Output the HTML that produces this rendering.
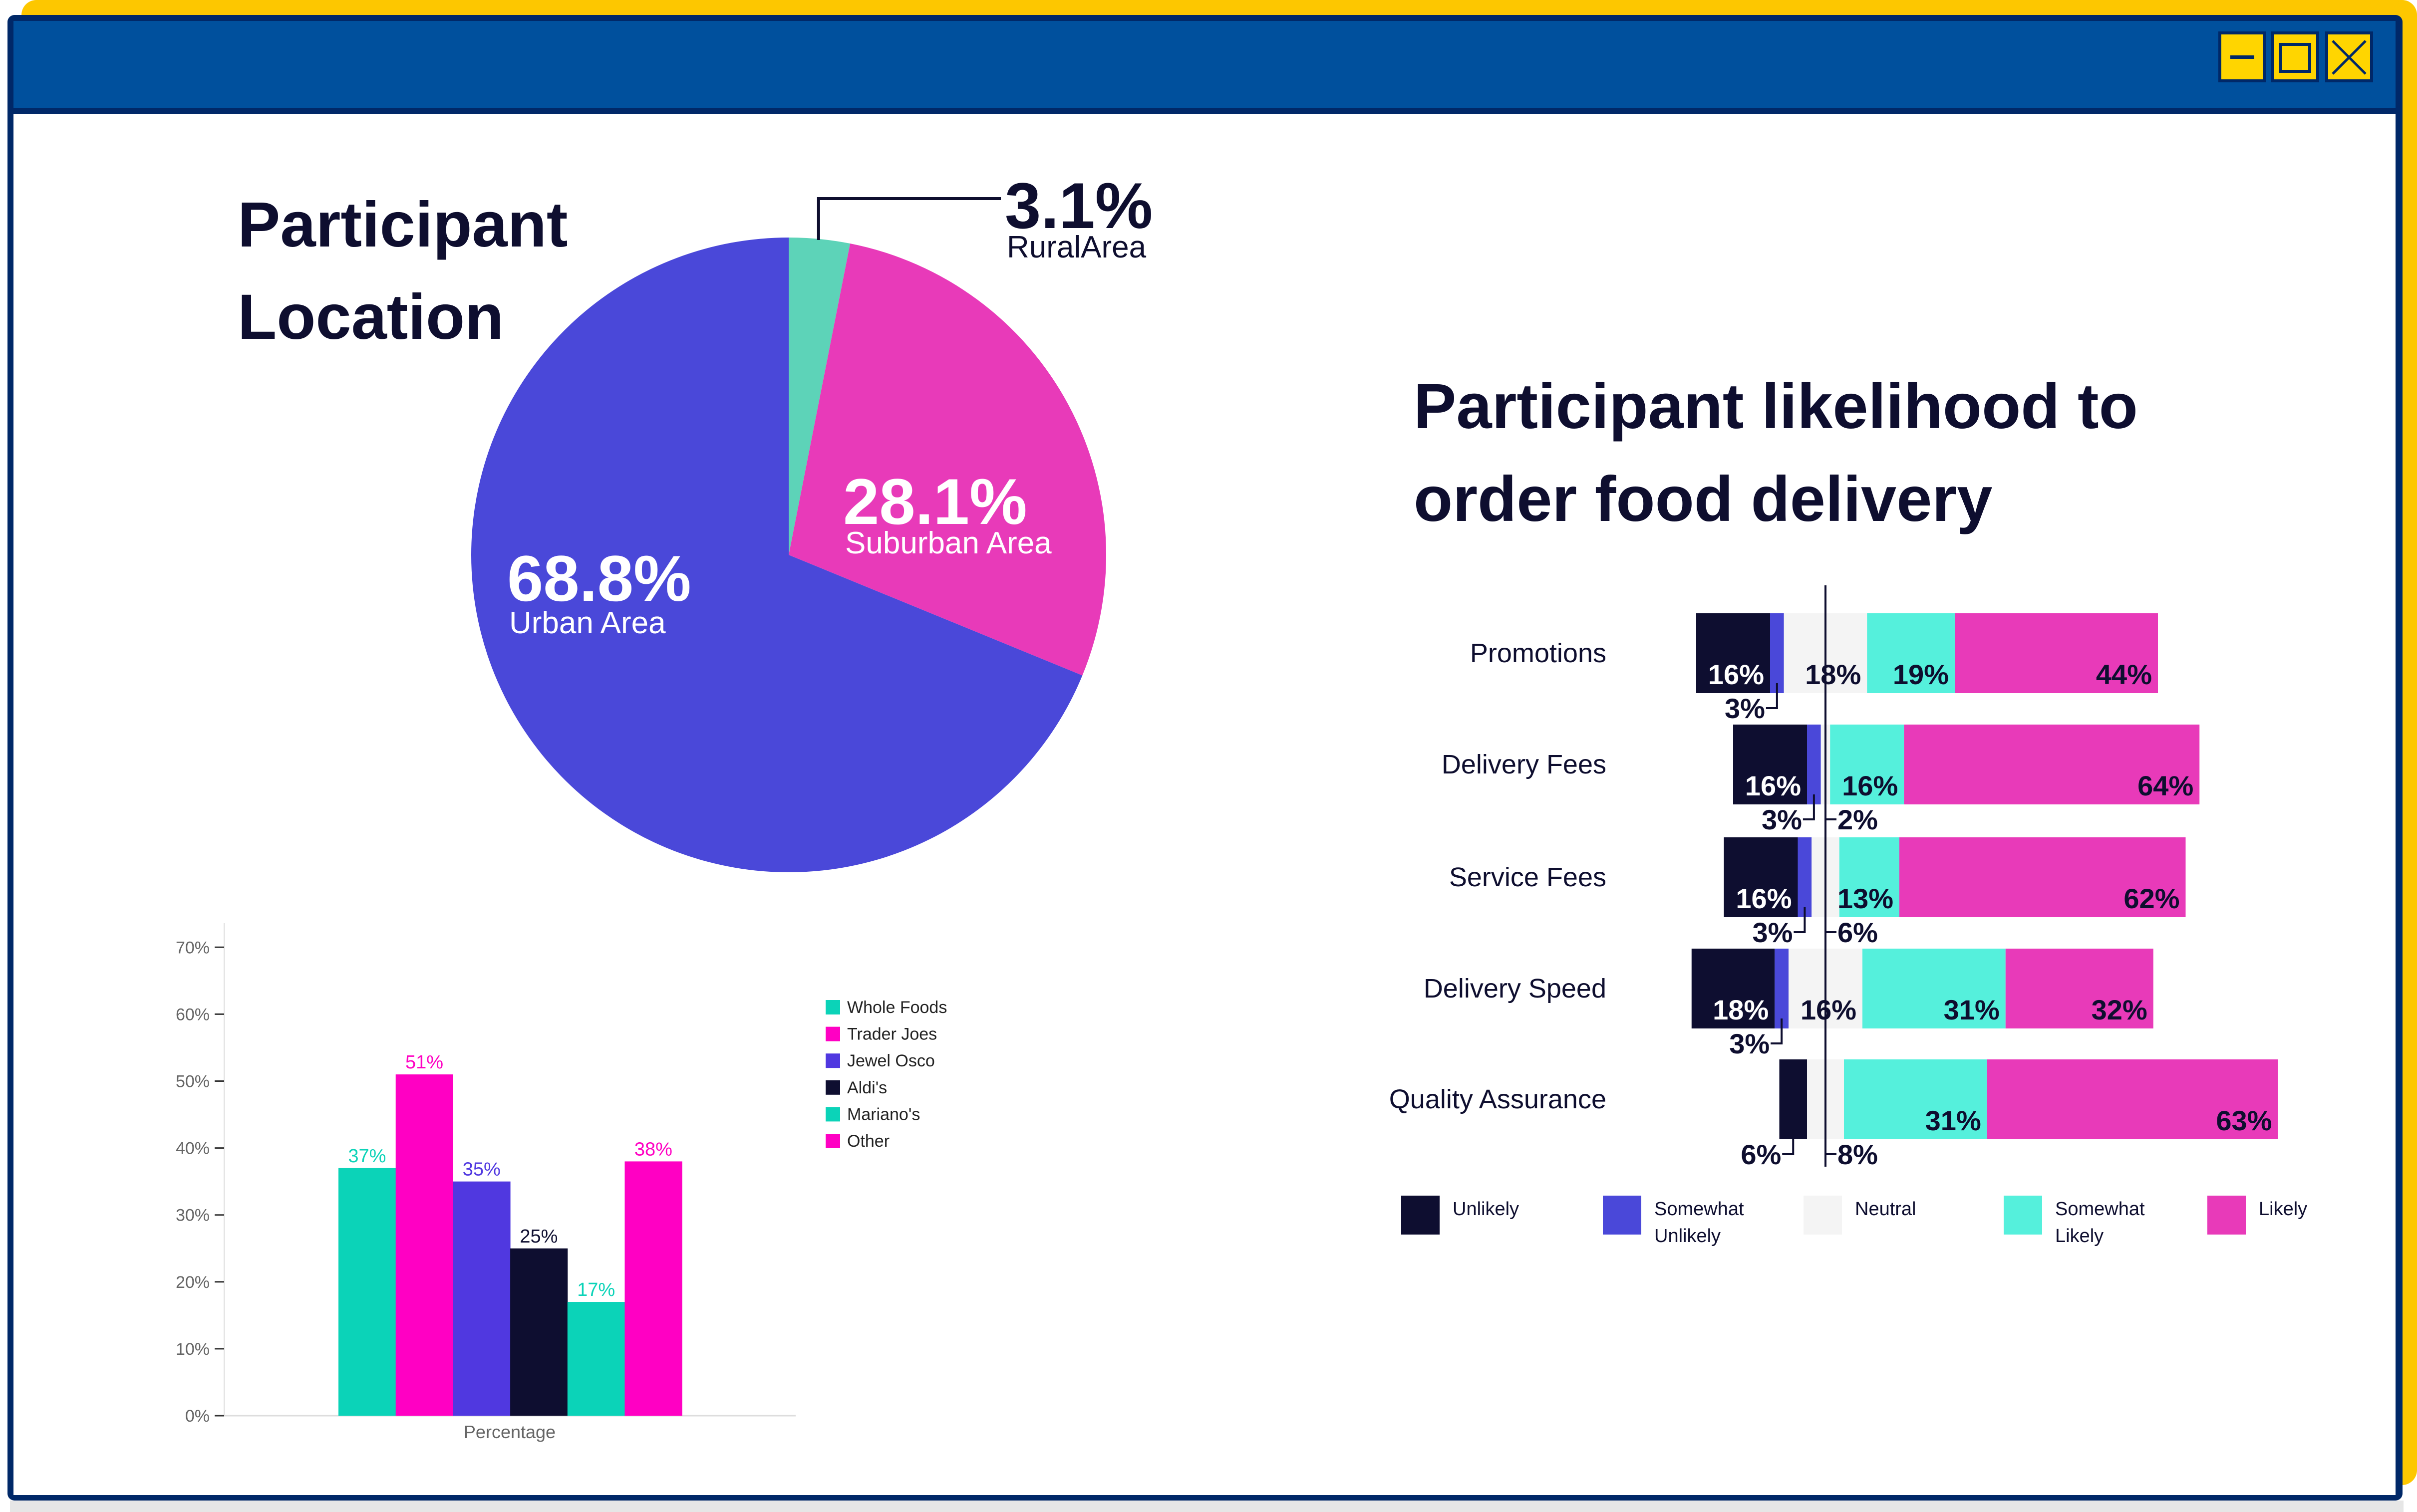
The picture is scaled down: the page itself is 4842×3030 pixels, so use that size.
<!DOCTYPE html>
<html><head><meta charset="utf-8"><style>
html,body{margin:0;padding:0;background:#fff;}
body{width:4842px;height:3030px;overflow:hidden;position:relative;font-family:"Liberation Sans",sans-serif;}
</style></head><body>
<svg id="root" width="4842" height="3030" viewBox="0 0 4842 3030" xmlns="http://www.w3.org/2000/svg" style="position:absolute;left:0;top:0">
  <rect x="20" y="3007" width="4795" height="23" fill="#e6e6e6"/>
  <rect x="43" y="0" width="4799" height="2976" rx="30" fill="#fdc700"/>
  <rect x="15" y="30" width="4798" height="2977" rx="14" fill="#002868"/>
  <rect x="27" y="228" width="4772" height="2768" fill="#ffffff"/>
  <rect x="27" y="42" width="4772" height="174" fill="#00509d"/>
  <g>
    <rect x="4447" y="66" width="90" height="96" fill="#ffd500" stroke="#002868" stroke-width="6"/>
    <rect x="4468" y="111" width="48" height="7" fill="#002868"/>
  </g>
  <g>
    <rect x="4553" y="66" width="90" height="96" fill="#ffd500" stroke="#002868" stroke-width="6"/>
    <rect x="4569" y="89" width="58" height="54" fill="none" stroke="#002868" stroke-width="6"/>
  </g>
  <g>
    <rect x="4661" y="66" width="90" height="96" fill="#ffd500" stroke="#002868" stroke-width="6"/>
    <line x1="4673" y1="82" x2="4739" y2="148" stroke="#002868" stroke-width="5"/>
    <line x1="4739" y1="82" x2="4673" y2="148" stroke="#002868" stroke-width="5"/>
  </g>

  <g font-family="Liberation Sans, sans-serif" font-weight="bold" font-size="128" fill="#0e0e2f">
    <text x="476" y="494">Participant</text>
    <text x="476" y="679">Location</text>
  </g>
  <g id="pie"></g>

  <g font-family="Liberation Sans, sans-serif" font-weight="bold" font-size="128" fill="#0e0e2f">
    <text x="2832" y="858">Participant likelihood to</text>
    <text x="2832" y="1044">order food delivery</text>
  </g>
  <g id="likert"></g>
  <g id="bars"></g>
</svg>
<script>
// ---------- Pie data ----------
const pieLabels = ["RuralArea","Suburban Area","Urban Area"];
const pieValues = [3.1, 28.1, 68.8];
const pieColors = ["#5dd3b8","#e83ab9","#4a48d9"];

// ---------- Likert data ----------
const likertCats = ["Promotions","Delivery Fees","Service Fees","Delivery Speed","Quality Assurance"];
const unlikely = [16,16,16,18,6];
const somewhatUnlikely = [3,3,3,3,0];
const neutral = [18,2,6,16,8];
const somewhatLikely = [19,16,13,31,31];
const likely = [44,64,62,32,63];
const likertSeriesNames = ["Unlikely","Somewhat Unlikely","Neutral","Somewhat Likely","Likely"];

// ---------- Bar chart data ----------
const stores = ["Whole Foods","Trader Joes","Jewel Osco","Aldi's","Mariano's","Other"];
const storeValues = [37,51,35,25,17,38];
const yTicks = [0,10,20,30,40,50,60,70];

const NS="http://www.w3.org/2000/svg";
function mk(parent,tag,attrs,text){const e=document.createElementNS(NS,tag);for(const k in attrs)e.setAttribute(k,attrs[k]);if(text!==undefined)e.textContent=text;parent.appendChild(e);return e;}

// ---------- Pie ----------
(function(){
  const g=document.getElementById('pie');
  const cx=1580,cy=1112,r=636;
  let a0=0;const total=pieValues.reduce((a,b)=>a+b,0);
  const slices=[];
  pieValues.forEach((v,i)=>{
    const a1=a0+v/total*2*Math.PI;
    const p0=[cx+r*Math.sin(a0),cy-r*Math.cos(a0)],p1=[cx+r*Math.sin(a1),cy-r*Math.cos(a1)];
    const large=(a1-a0)>Math.PI?1:0;
    const p=mk(g,'path',{d:`M${cx},${cy} L${p0[0]},${p0[1]} A${r},${r} 0 ${large} 1 ${p1[0]},${p1[1]} Z`,fill:pieColors[i]});
    
    
    slices.push([a0,a1]);a0=a1;
  });
  const am=(slices[0][0]+slices[0][1])/2;
  const sx=cx+r*Math.sin(am)-2;
  const lead=mk(g,'path',{d:`M${sx},${cy-r+5} L${sx},398 L2005,398`,fill:'none',stroke:'#0e0e2f','stroke-width':6});
  
  
  const labs=[
    {x:2013,y:457,ys:516,fill:'#0e0e2f'},
    {x:1689,y:1050,ys:1109,fill:'#ffffff'},
    {x:1016,y:1204,ys:1269,fill:'#ffffff'}];
  labs.forEach((L,i)=>{
    const t=mk(g,'text',{x:L.x,y:L.y,'font-size':130,'font-weight':'bold',fill:L.fill},pieValues[i].toFixed(1)+'%');
    
    
    const s=mk(g,'text',{x:L.x+4,y:L.ys,'font-size':62,fill:L.fill},pieLabels[i]);
    
    
  });
})();

// ---------- Likert ----------
(function(){
  const g=document.getElementById('likert');
  const center=3657,pp=9.25;
  const x=v=>center+v*pp;
  const rowTop=[1229,1452,1678,1901,2123],h=160;
  const cols=["#0e0e30","#4a48d9","#f4f4f4","#55f0dc","#e83ab9"];
  const series=[unlikely,somewhatUnlikely,neutral,somewhatLikely,likely];
  likertCats.forEach((c,i)=>{
    const y=rowTop[i];
    const t=mk(g,'text',{x:3218,y:y+h/2+18,'font-size':54,'text-anchor':'end',fill:'#0e0e2f'},c);
    
    
    let start=-(unlikely[i]+somewhatUnlikely[i]+neutral[i]/2);
    series.forEach((s,k)=>{
      const v=s[i];const x0=x(start),x1=x(start+v);start+=v;
      if(v<=0)return;
      const r=mk(g,'rect',{x:x0,y:y,width:x1-x0,height:h,fill:cols[k]});
      
      
      const lbl=v+'%';const fc=k===0?'#ffffff':'#0e0e2f';
      if(x1-x0>110){
        const tl=mk(g,'text',{x:x1-12,y:y+h-18,'font-size':56,'font-weight':'bold','text-anchor':'end',fill:fc},lbl);
        
        
      }else{
        const mx=(x0+x1)/2;const left=k<2;
        const ly=y+h+30;
        const ln=mk(g,'path',{d:left?`M${mx},${y+h-20} L${mx},${ly} L${mx-22},${ly}`:`M${mx},${y+h-20} L${mx},${ly} L${mx+22},${ly}`,fill:'none',stroke:'#0e0e2f','stroke-width':4});
        
        
        const tl=mk(g,'text',{x:left?mx-24:mx+24,y:ly+20,'font-size':56,'font-weight':'bold','text-anchor':left?'end':'start',fill:'#0e0e2f'},lbl);
        
        
      }
    });
  });
  const cl=mk(g,'line',{x1:center,y1:1173,x2:center,y2:2338,stroke:'#0e0e2f','stroke-width':4});
  
  
  const lx=[2807,3211,3613,4014,4422];
  likertSeriesNames.forEach((n,k)=>{
    const r=mk(g,'rect',{x:lx[k],y:2396,width:77,height:78,fill:cols[k]});
    
    
    const parts=n.split(' ');
    parts.forEach((p,j)=>{
      const t=mk(g,'text',{x:lx[k]+103,y:2435+j*54,'font-size':38,fill:'#0e0e2f'},p);
      
      
    });
  });
})();

// ---------- Bar chart ----------
(function(){
  const g=document.getElementById('bars');
  const y0=2837,per=13.41,ax=449;
  const y=v=>y0-v*per;
  const cols=["#0bd3b8","#ff00c3","#5038e0","#0e0e30","#0bd3b8","#ff00c3"];
  const bx0=678,bw=114.7;
  const ya=mk(g,'line',{x1:ax,y1:1850,x2:ax,y2:y0,stroke:'#dddddd','stroke-width':2});
  
  
  const xa=mk(g,'line',{x1:ax,y1:y0,x2:1594,y2:y0,stroke:'#dddddd','stroke-width':3});
  
  
  yTicks.forEach(t=>{
    const tk=mk(g,'line',{x1:430,y1:y(t),x2:ax,y2:y(t),stroke:'#333','stroke-width':3});
    
    
    const tl=mk(g,'text',{x:420,y:y(t)+12,'font-size':34,'text-anchor':'end',fill:'#666','font-family':'Liberation Sans Narrow, Liberation Sans, sans-serif'},t+'%');
    
    
  });
  stores.forEach((s,i)=>{
    const v=storeValues[i];
    const r=mk(g,'rect',{x:bx0+i*bw,y:y(v),width:bw+0.5,height:y0-y(v),fill:cols[i]});
    
    
    const t=mk(g,'text',{x:bx0+i*bw+bw/2,y:y(v)-12,'font-size':38,'text-anchor':'middle',fill:cols[i],'font-family':'Liberation Sans Narrow, Liberation Sans, sans-serif'},v+'%');
    
    
    const ls=mk(g,'rect',{x:1654,y:2004+i*53.6,width:29,height:29,fill:cols[i]});
    
    
    const lt=mk(g,'text',{x:1697,y:2030+i*53.6,'font-size':34,fill:'#222','font-family':'Liberation Sans Narrow, Liberation Sans, sans-serif'},s);
    
    
  });
  const xt=mk(g,'text',{x:1021,y:2882,'font-size':36,'text-anchor':'middle',fill:'#666','font-family':'Liberation Sans Narrow, Liberation Sans, sans-serif'},'Percentage');
  
  
})();
</script>
</body></html>
